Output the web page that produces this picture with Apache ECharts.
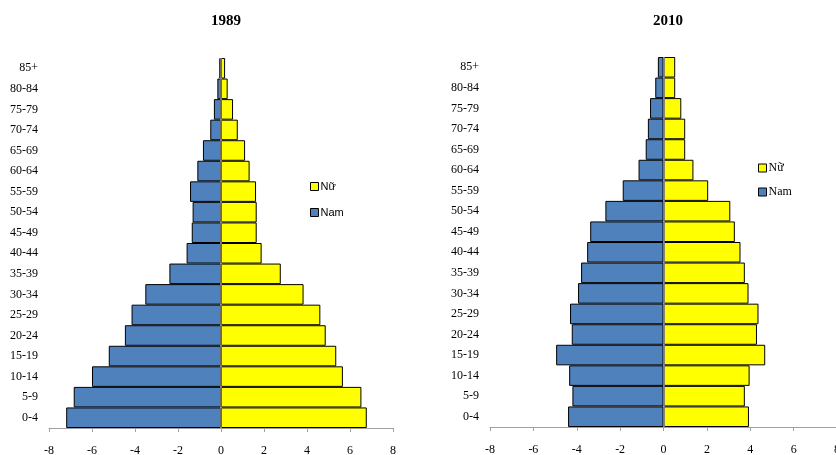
<!DOCTYPE html>
<html><head><meta charset="utf-8">
<script src="https://cdn.jsdelivr.net/npm/echarts@6/dist/echarts.min.js"></script>
<style>html,body{margin:0;padding:0;background:#fff}#c{width:836px;height:455px}</style>
</head><body><div id="c"></div>
<script>
const categories = ['0-4','5-9','10-14','15-19','20-24','25-29','30-34','35-39','40-44','45-49','50-54','55-59','60-64','65-69','70-74','75-79','80-84','85+'];
const xTicks = [-8,-6,-4,-2,0,2,4,6,8];
const titles = ['1989','2010'];
// 1989 (%), male shown to the left as negative
const nam1989 = [-7.2,-6.85,-6.0,-5.22,-4.47,-4.16,-3.52,-2.4,-1.6,-1.36,-1.32,-1.44,-1.1,-0.84,-0.5,-0.33,-0.17,-0.08];
const nu1989  = [6.78,6.53,5.67,5.36,4.87,4.62,3.84,2.78,1.89,1.66,1.66,1.63,1.33,1.12,0.78,0.56,0.31,0.19];
// 2010 (%)
const nam2010 = [-4.4,-4.2,-4.35,-4.95,-4.23,-4.31,-3.94,-3.8,-3.52,-3.38,-2.68,-1.88,-1.15,-0.82,-0.72,-0.62,-0.38,-0.26];
const nu2010  = [3.94,3.75,3.97,4.69,4.31,4.38,3.92,3.75,3.55,3.29,3.08,2.06,1.38,1.0,1.0,0.82,0.54,0.54];

const BLUE = '#4F81BD', YELLOW = '#FFFF00';
const serif = '"Liberation Serif","Times New Roman",serif';
const sans = '"Liberation Sans",Arial,sans-serif';

function xAx(gi){
  return {type:'value', gridIndex:gi, min:xTicks[0], max:xTicks[xTicks.length-1], interval:xTicks[1]-xTicks[0],
    splitLine:{show:false},
    axisLine:{show:true, onZero:false, lineStyle:{color:'#a0a0a0', width:1}},
    axisTick:{show:true, length:4, lineStyle:{color:'#a0a0a0'}},
    axisLabel:{color:'#000', fontFamily:serif, fontSize:12, margin:17, hideOverlap:false, showMinLabel:true, showMaxLabel:true}};
}
function yAx(gi){
  return {type:'category', gridIndex:gi, data:categories,
    axisLine:{show:false}, axisTick:{show:false},
    axisLabel:{color:'#000', fontFamily:serif, fontSize:12, margin:11}};
}
function bar(name, data, color, gi, zero){
  const s = {name, type:'bar', xAxisIndex:gi, yAxisIndex:gi, data,
    barGap:'-100%', barCategoryGap:'0%',
    itemStyle:{color, borderColor:'#000', borderWidth:1},
    emphasis:{disabled:true}, animation:false};
  if (zero) s.markLine = {silent:true, symbol:'none', label:{show:false},
    lineStyle:{color:'#8c8c8c', type:'solid', width:1.5}, data:[{xAxis:0}]};
  return s;
}
const chart = echarts.init(document.getElementById('c'));
chart.setOption({
  animation:false,
  title:[
    {text:titles[0], left:221, top:9, textAlign:'center', textStyle:{fontFamily:serif, fontSize:15, fontWeight:'bold', color:'#000'}},
    {text:titles[1], left:663, top:9, textAlign:'center', textStyle:{fontFamily:serif, fontSize:15, fontWeight:'bold', color:'#000'}}
  ],
  legend:[
    {data:['Nữ','Nam'], orient:'vertical', left:305, top:176, itemWidth:8, itemHeight:8, itemGap:15, icon:'rect',
      itemStyle:{borderColor:'#000', borderWidth:1},
      textStyle:{fontFamily:sans, fontSize:11, color:'#000', padding:[0,0,0,-3]}},
    {data:['Nữ','Nam'], orient:'vertical', left:753, top:157, itemWidth:8, itemHeight:8, itemGap:12, icon:'rect',
      itemStyle:{borderColor:'#000', borderWidth:1},
      textStyle:{fontFamily:serif, fontSize:12, color:'#000', padding:[0,0,0,-3]}}
  ],
  grid:[
    {left:49, top:58, width:344, bottom:27, outerBoundsMode:'none', containLabel:false},
    {left:490, top:57, width:347, bottom:28, outerBoundsMode:'none', containLabel:false}
  ],
  xAxis:[xAx(0), xAx(1)],
  yAxis:[yAx(0), yAx(1)],
  series:[
    bar('Nam', nam1989, BLUE, 0, false),
    bar('Nữ', nu1989, YELLOW, 0, true),
    bar('Nam', nam2010, BLUE, 1, false),
    bar('Nữ', nu2010, YELLOW, 1, true)
  ]
});
</script></body></html>
